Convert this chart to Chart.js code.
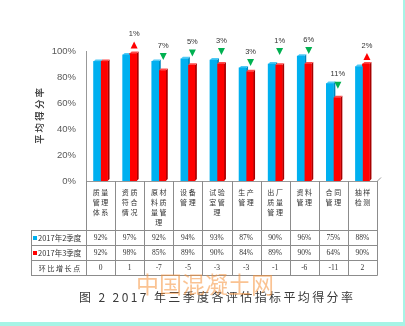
<!DOCTYPE html>
<html>
<head>
<meta charset="utf-8">
<script src="https://cdn.jsdelivr.net/npm/chart.js@4.4.1/dist/chart.umd.min.js"></script>
<style>
  html, body { margin: 0; padding: 0; background: #fff; }
</style>
</head>
<body>
<canvas id="canvas" width="405" height="326"></canvas>
<script>
const canvas = document.getElementById("canvas").getContext("2d");

// category names, split two characters per line like the table header
const categories = [
  ["质 量", "管 理", "体 系"],
  ["资 质", "符 合", "情 况"],
  ["原 材", "料 质", "量 管", "理"],
  ["设 备", "管 理"],
  ["试 验", "室 管", "理"],
  ["生 产", "管 理"],
  ["出 厂", "质 量", "管 理"],
  ["资 料", "管 理"],
  ["合 同", "管 理"],
  ["抽 样", "检 测"],
];
const seriesNames = ["2017年2季度", "2017年3季度"];
const q2 = [92, 97, 92, 94, 93, 87, 90, 96, 75, 88];
const q3 = [92, 98, 85, 89, 90, 84, 89, 90, 64, 90];
const change = [0, 1, -7, -5, -3, -3, -1, -6, -11, 2];
const changeName = "环 比 增 长 点";
// where the up/down arrows sit, in axis units
const markPos = [null, 104.6, 95.8, 98.5, 99.6, 91.2, 99.6, 100.4, 73.7, 95.8];
const yTicks = [0, 20, 40, 60, 80, 100];
const caption = "图 2 2017 年三季度各评估指标平均得分率";
const watermark = "中国混凝土网";

const colors = ["#00b0f0", "#ff0000"];
const sideColors = ["#0087bd", "#a80000"];
const topColors = ["#4fcaf5", "#ff4a4a"];

const line = (ctx, x1, y1, x2, y2) => {
  ctx.beginPath();
  ctx.moveTo(x1, y1);
  ctx.lineTo(x2, y2);
  ctx.stroke();
};

const tablePlugin = {
  id: "table",
  beforeDraw(chart) {
    const ctx = chart.ctx;
    ctx.save();
    ctx.fillStyle = "#fff";
    ctx.fillRect(0, 0, chart.width, chart.height);
    ctx.fillStyle = "#a6f4e6";
    ctx.fillRect(403, 0, 2, chart.height);
    ctx.fillRect(0, 322, chart.width, 4);
    ctx.restore();
  },
  beforeDatasetsDraw(chart) {
    // fake 3d: side and top faces behind the front of every bar
    const ctx = chart.ctx;
    const d = 2;
    ctx.save();
    chart.data.datasets.forEach((ds, i) => {
      chart.getDatasetMeta(i).data.forEach(bar => {
        const l = bar.x - bar.width / 2, r = bar.x + bar.width / 2;
        const t = bar.y, b = bar.base;
        ctx.fillStyle = sideColors[i];
        ctx.beginPath();
        ctx.moveTo(r, t); ctx.lineTo(r + d, t - d); ctx.lineTo(r + d, b - d); ctx.lineTo(r, b);
        ctx.closePath(); ctx.fill();
        ctx.fillStyle = topColors[i];
        ctx.beginPath();
        ctx.moveTo(l, t); ctx.lineTo(l + d, t - d); ctx.lineTo(r + d, t - d); ctx.lineTo(r, t);
        ctx.closePath(); ctx.fill();
      });
    });
    ctx.restore();
  },
  afterDraw(chart) {
    const ctx = chart.ctx;
    const xs = chart.scales.x, ys = chart.scales.y;
    const n = categories.length;
    const top = Math.round(xs.top);
    const rows = [top + 49, top + 64, top + 79, top + 94];
    const left = 31, right = Math.round(xs.right);
    const step = xs.width / n;

    ctx.save();
    // floor edge on the right
    ctx.strokeStyle = "#999";
    ctx.lineWidth = 1;
    line(ctx, right, top + 0.5, right + 4, top - 3.5);

    // table grid
    ctx.strokeStyle = "#8c8c8c";
    rows.forEach(ry => line(ctx, left, ry + 0.5, right + 0.5, ry + 0.5));
    for (let i = 0; i <= n; i++) {
      const bx = Math.round(xs.left + i * step) + 0.5;
      line(ctx, bx, top, bx, rows[3] + 0.5);
    }
    line(ctx, left + 0.5, rows[0], left + 0.5, rows[3] + 0.5);

    // row headers
    ctx.textBaseline = "middle";
    ctx.fillStyle = "#333";
    ctx.font = "7.5px 'Noto Sans CJK SC'";
    seriesNames.forEach((name, k) => {
      const my = (rows[k] + rows[k + 1]) / 2 + 1;
      ctx.fillStyle = colors[k];
      ctx.fillRect(33, my - 2.5, 4, 4);
      ctx.fillStyle = "#333";
      ctx.textAlign = "left";
      ctx.fillText(name, 38, my);
    });
    ctx.textAlign = "center";
    ctx.font = "7px 'Noto Sans CJK SC'";
    ctx.fillText(changeName, (left + xs.left) / 2 + 1, (rows[2] + rows[3]) / 2 + 1);

    // table values
    ctx.font = "7.5px 'Liberation Serif'";
    for (let i = 0; i < n; i++) {
      const cx = xs.getPixelForValue(i);
      ctx.fillText(q2[i] + "%", cx, (rows[0] + rows[1]) / 2 + 1);
      ctx.fillText(q3[i] + "%", cx, (rows[1] + rows[2]) / 2 + 1);
      ctx.fillText(String(change[i]), cx, (rows[2] + rows[3]) / 2 + 1);
    }

    // change arrows above the 3rd quarter bars
    const meta = chart.getDatasetMeta(1);
    ctx.font = "7.5px 'Liberation Sans'";
    for (let i = 0; i < n; i++) {
      if (markPos[i] === null) continue;
      const bx = meta.data[i].x + 1;
      const ty = ys.getPixelForValue(markPos[i]);
      const up = change[i] > 0;
      ctx.fillStyle = up ? "#ff0000" : "#00b050";
      ctx.beginPath();
      if (up) {
        ctx.moveTo(bx, ty - 3.5); ctx.lineTo(bx + 3.5, ty + 3.5); ctx.lineTo(bx - 3.5, ty + 3.5);
      } else {
        ctx.moveTo(bx, ty + 3.5); ctx.lineTo(bx + 3.5, ty - 3.5); ctx.lineTo(bx - 3.5, ty - 3.5);
      }
      ctx.closePath();
      ctx.fill();
      ctx.fillStyle = "#333";
      ctx.fillText(Math.abs(change[i]) + "%", bx, ty - 11);
    }

    // caption
    ctx.fillStyle = "#3a3a3a";
    ctx.font = "12px 'Noto Sans CJK SC'";
    ctx.textAlign = "left";
    ctx.letterSpacing = "0px";
    const w0 = ctx.measureText(caption).width;
    ctx.letterSpacing = ((274 - w0) / (caption.length - 1)) + "px";
    ctx.fillText(caption, 79, 297);

    // site watermark
    ctx.letterSpacing = "0px";
    ctx.globalAlpha = 0.55;
    ctx.fillStyle = "#f5913a";
    ctx.font = "23px 'Noto Sans CJK SC'";
    ctx.textAlign = "center";
    ctx.fillText(watermark, 205, 284);
    ctx.restore();
  }
};

const chart = new Chart(canvas, {
  type: "bar",
  data: {
    labels: categories,
    datasets: seriesNames.map((name, i) => ({
      label: name,
      data: [q2, q3][i],
      backgroundColor: colors[i],
      barThickness: 7,
    })),
  },
  options: {
    responsive: false,
    animation: false,
    devicePixelRatio: 1,
    layout: { padding: { top: 51, right: 28, bottom: 51, left: 0 } },
    plugins: {
      legend: { display: false },
      tooltip: { enabled: false },
    },
    scales: {
      x: {
        grid: { display: false, drawTicks: false },
        border: { color: "#999" },
        ticks: {
          autoSkip: false,
          maxRotation: 0,
          padding: 6,
          color: "#333",
          font: { family: "Noto Sans CJK SC", size: 7, lineHeight: 10 / 7 },
        },
        afterFit: s => { s.height = 94; },
      },
      y: {
        min: 0,
        max: 100,
        afterBuildTicks: s => { s.ticks = yTicks.map(v => ({ value: v })); },
        ticks: {
          padding: 10,
          color: "#595959",
          font: { family: "Liberation Sans", size: 9.5 },
          callback: v => v + "%",
        },
        grid: { display: false, drawTicks: false },
        border: { color: "#999" },
        title: {
          display: true,
          text: "平 均 得 分 率",
          color: "#333",
          padding: { top: 34, bottom: 0 },
          font: { family: "Noto Sans CJK SC", size: 9.5, weight: "500" },
        },
        afterFit: s => { s.width = 86; },
      },
    },
  },
  plugins: [tablePlugin],
});
</script>
</body>
</html>
